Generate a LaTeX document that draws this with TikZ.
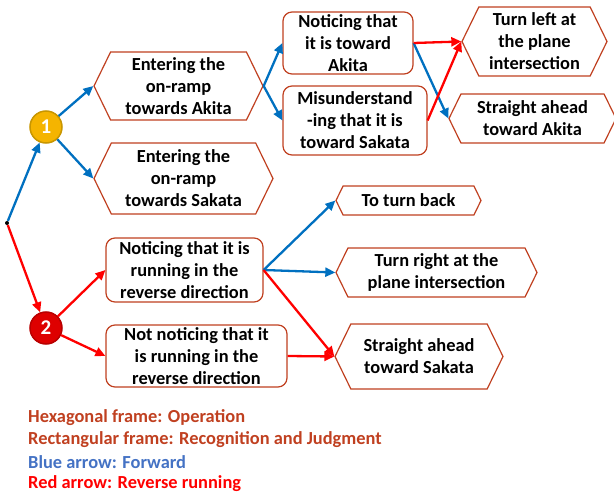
\documentclass[tikz,border=0pt]{standalone}
\usepackage{fontspec}
\setmainfont{Carlito}
\usetikzlibrary{shapes.symbols, arrows.meta}
\definecolor{framecol}{RGB}{192,64,32}
\definecolor{fwdblue}{RGB}{0,112,192}
\definecolor{revred}{RGB}{255,0,0}
\definecolor{legblue}{RGB}{68,114,196}
\definecolor{goldfill}{RGB}{245,180,0}
\definecolor{goldline}{RGB}{200,150,0}
\definecolor{redfill}{RGB}{222,0,0}
\definecolor{redline}{RGB}{185,0,0}
\tikzset{>={Triangle[length=10pt,width=9pt]}}

\begin{document}
\begin{tikzpicture}[x=1pt,y=-1pt,
    every node/.style={font=\fontsize{18.4}{22}\selectfont\bfseries, align=center},
    opbox/.style={shape=signal, signal to=east and west, signal pointer angle=128,
        draw=framecol, fill=white, line width=1.2pt, inner sep=0pt},
    judgebox/.style={rectangle, rounded corners=9pt, draw=framecol, fill=white,
        line width=1.2pt, inner sep=0pt},
    stepnum/.style={circle, minimum size=32pt, inner sep=0pt, line width=1.5pt,
        text=white, font=\fontsize{21}{21}\selectfont\bfseries},
    fwd/.style={->, draw=fwdblue, line width=2.3pt},
    rev/.style={->, draw=revred, line width=2.3pt},
    legtext/.style={anchor=west, inner sep=0pt, align=left}]
    \useasboundingbox (0,0) rectangle (614,495);

    % start and the two branch points
    \node[circle, fill=black, inner sep=0pt, minimum size=4pt] (st) at (7,223) {};
    \node[stepnum, fill=goldfill, draw=goldline] (c1) at (46,127) {1};
    \node[stepnum, fill=redfill, draw=redline] (c2) at (46,328) {2};

    % operations (hexagons)
    \node[opbox, minimum width=169pt, minimum height=68pt] (rampA) at (178.5,86) {Entering the\\on-ramp\\towards Akita};
    \node[opbox, minimum width=179pt, minimum height=71pt] (rampS) at (183.5,178.5) {Entering the\\on-ramp\\towards Sakata};
    \node[opbox, minimum width=145pt, minimum height=69pt] (left) at (534.5,41.5) {Turn left at\\the plane\\intersection};
    \node[opbox, minimum width=167pt, minimum height=49pt] (aheadA) at (532.5,118.5) {Straight ahead\\toward Akita};
    \node[opbox, minimum width=145pt, minimum height=29pt] (back) at (408.5,200.5) {To turn back};
    \node[opbox, minimum width=201pt, minimum height=49pt] (right) at (436.5,272.5) {Turn right at the\\plane intersection};
    \node[opbox, minimum width=168pt, minimum height=65pt] (aheadS) at (419,356.5) {Straight ahead\\toward Sakata};

    % recognition and judgment (rectangles)
    \node[judgebox, minimum width=130pt, minimum height=62pt] (seeA) at (348,43) {Noticing that\\it is toward\\Akita};
    \node[judgebox, minimum width=144pt, minimum height=69pt] (missS) at (355,120.5) {Misunderstand\\-ing that it is\\toward Sakata};
    \node[judgebox, minimum width=157pt, minimum height=64pt] (seeRev) at (184.5,270) {Noticing that it is\\running in the\\reverse direction};
    \node[judgebox, minimum width=181pt, minimum height=62pt] (missRev) at (196.5,356) {Not noticing that it\\is running in the\\reverse direction};

    % forward
    \draw[fwd] (st) -- (c1);
    \draw[fwd] (c1) -- (rampA.west);
    \draw[fwd] (c1) -- (rampS.west);
    \draw[fwd] (rampA.east) -- (seeA.west);
    \draw[fwd] (rampA.east) -- (missS.west);
    \draw[fwd] (seeA.east) -- (aheadA.west);
    \draw[fwd] (seeRev.east) -- (back.west);
    \draw[fwd] (seeRev.east) -- (right.west);

    % reverse running
    \draw[rev] (seeA.east) -- (left.west);
    \draw[rev] (missS.east) -- (left.west);
    \draw[rev] (st) -- (c2);
    \draw[rev] (c2) -- (seeRev.west);
    \draw[rev] (c2) -- (missRev.west);
    \draw[rev] (seeRev.east) -- (aheadS.west);
    \draw[rev] (missRev.east) -- (aheadS.west);

    % legend
    \node[legtext, text=framecol] (leg1) at (28,418) {Hexagonal frame: Operation};
    \node[legtext, text=framecol] (leg2) at (28,440) {Rectangular frame: Recognition and Judgment};
    \node[legtext, text=legblue] (leg3) at (28,462) {Blue arrow: Forward};
    \node[legtext, text=revred] (leg4) at (28,484) {Red arrow: Reverse running};
\end{tikzpicture}
\end{document}
